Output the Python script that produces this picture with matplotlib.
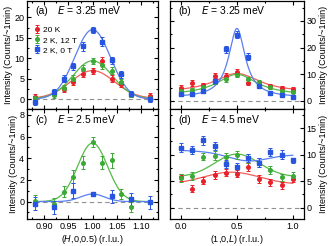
import numpy as np
import matplotlib
matplotlib.use('Agg')
import matplotlib.pyplot as plt
from matplotlib.ticker import MultipleLocator

## data ##
H = [0.88, 0.92, 0.94, 0.96, 0.98, 1.00, 1.02, 1.04, 1.06, 1.08, 1.12]
L = [0.0, 0.1, 0.2, 0.3, 0.4, 0.5, 0.6, 0.7, 0.8, 0.9, 1.0]

# panel (a), E = 3.25 meV, H scan
a_red = [0.6, 1.3, 2.4, 4.2, 6.2, 6.9, 9.4, 5.0, 3.8, 1.2, 0.9]
a_red_err = [0.6, 0.6, 0.7, 0.8, 0.8, 0.8, 0.9, 0.8, 0.7, 0.6, 0.6]
a_green = [0.2, 1.0, 2.7, 5.0, 7.4, 9.3, 8.4, 7.0, 4.2, 1.1, 0.4]
a_green_err = [0.6, 0.6, 0.7, 0.8, 0.9, 0.7, 0.9, 0.9, 0.8, 0.6, 0.6]
a_blue = [-0.6, 1.7, 5.0, 8.0, 12.9, 17.0, 14.1, 9.5, 6.1, 1.4, 0.0]
a_blue_err = [0.7, 0.7, 0.9, 0.9, 1.0, 0.7, 1.0, 0.9, 0.9, 0.7, 0.7]

# panel (b), E = 3.25 meV, L scan
b_red = [5.0, 6.6, 6.0, 9.4, 9.4, 10.7, 6.9, 6.6, 5.6, 4.7, 4.5]
b_red_err = [0.9, 1.1, 0.9, 1.2, 1.1, 1.1, 1.1, 0.9, 0.9, 0.8, 0.8]
b_green = [3.7, 4.1, 5.4, 7.2, 8.1, 9.8, 8.1, 6.9, 5.1, 3.9, 3.5]
b_green_err = [0.7, 0.7, 0.8, 0.9, 0.9, 1.0, 0.9, 0.9, 0.8, 0.7, 0.7]
b_blue = [2.5, 2.5, 3.9, 7.5, 19.3, 24.9, 16.6, 5.6, 3.1, 2.1, 1.6]
b_blue_err = [0.8, 0.8, 0.9, 1.1, 1.3, 1.4, 1.2, 0.9, 0.8, 0.8, 0.8]

# panel (c), E = 2.5 meV, H scan
c_H_green = [0.88, 0.92, 0.94, 0.96, 0.98, 1.00, 1.02, 1.04, 1.06, 1.08]
c_green = [0.1, -0.2, 0.9, 2.3, 3.6, 5.5, 3.6, 3.8, 0.7, -0.5]
c_green_err = [0.5, 0.5, 0.5, 0.6, 0.6, 0.5, 0.6, 0.7, 0.5, 0.5]
c_H_blue = [0.88, 0.92, 0.96, 1.00, 1.04, 1.08, 1.12]
c_blue = [-0.2, -0.5, 1.0, 0.7, 0.5, 0.2, -0.05]
c_blue_err = [0.6, 0.6, 0.7, 0.2, 0.6, 0.6, 0.6]

# panel (d), E = 4.5 meV, L scan
d_red = [5.7, 3.6, 5.1, 6.2, 6.6, 6.4, 7.7, 5.4, 4.8, 4.2, 5.4]
d_red_err = [0.7, 0.7, 0.7, 0.7, 0.7, 0.7, 0.7, 0.7, 0.7, 0.7, 0.5]
d_green = [5.6, 6.0, 9.6, 9.8, 9.6, 9.9, 9.3, 8.5, 7.1, 5.7, 6.0]
d_green_err = [0.7, 0.7, 0.7, 0.8, 0.8, 0.8, 0.8, 0.8, 0.7, 0.7, 0.7]
d_blue = [11.3, 10.9, 12.7, 11.6, 8.2, 7.6, 9.4, 8.5, 10.5, 10.0, 8.9]
d_blue_err = [0.8, 0.8, 0.8, 0.8, 0.8, 0.8, 0.8, 0.8, 0.8, 0.8, 0.5]

## fit curves: (baseline, amplitude, centre, width) ##
a_fits = {'red': (0.2, 6.8, 1.0, 0.045), 'green': (0.1, 9.3, 1.0, 0.041),
          'blue': (0.0, 17.0, 1.0, 0.037)}
b_fits = {'red': (3.0, 7.3, 0.5, 0.25), 'green': (2.0, 8.0, 0.5, 0.22),
          'blue': (1.2, 26.0, 0.5, 0.09)}
c_fits = {'green': (0.0, 5.4, 1.0, 0.031), 'blue': (0.0, 0.7, 1.0, 0.025)}
d_fits = {'red': (4.4, 2.3, 0.45, 0.25), 'green': (5.8, 4.3, 0.5, 0.2)}
d_blue_fit = (10.8, 10.0, 1.5, 0.6, 0.18)  # sloped baseline with a dip

labels = ['20 K', '2 K, 12 T', '2 K, 0 T']
colors = {'red': '#e8202a', 'green': '#3aa935', 'blue': '#2855e0'}
fitcolors = {'red': '#f0605a', 'green': '#55bb45', 'blue': '#5a7ff0'}
markers = {'red': 'o', 'green': 'o', 'blue': 's'}

plt.rcParams['font.family'] = 'Liberation Sans'
plt.rcParams['font.size'] = 6.5


def gauss(x, p):
    b, A, x0, s = p
    return b + A * np.exp(-(x - x0) ** 2 / (2 * s ** 2))


def lorentz(x, p):
    b, A, x0, g = p
    return b + A / (1 + ((x - x0) / g) ** 2)


def style_axis(ax, right=False):
    ax.tick_params(which='both', direction='in', top=True, right=True,
                   left=True, bottom=True, labelsize=6.5, width=0.8, pad=2)
    ax.tick_params(which='major', length=3)
    ax.tick_params(which='minor', length=1.6)
    if right:
        ax.tick_params(labelleft=False, labelright=True)
        ax.yaxis.set_label_position('right')
    for s in ax.spines.values():
        s.set_linewidth(0.9)
    ax.axhline(0, color='#909090', lw=0.8, ls=(0, (4, 3)), zorder=0)


def points(ax, x, y, err, c, label=None):
    ax.errorbar(x, y, yerr=err, fmt=markers[c], color=colors[c], ms=2.6,
                elinewidth=0.7, capsize=1.2, capthick=0.7, label=label,
                zorder=3)


fig = plt.figure(figsize=(3.3, 2.46), dpi=100)
ax_a = fig.add_axes([0.082, 0.555, 0.397, 0.441])
ax_b = fig.add_axes([0.515, 0.555, 0.406, 0.441])
ax_c = fig.add_axes([0.082, 0.110, 0.397, 0.445])
ax_d = fig.add_axes([0.515, 0.110, 0.406, 0.445])

xh = np.linspace(0.88, 1.12, 200)
xl = np.linspace(0.0, 1.0, 200)

# (a)
for c, y, e, lab in [('red', a_red, a_red_err, labels[0]),
                     ('green', a_green, a_green_err, labels[1]),
                     ('blue', a_blue, a_blue_err, labels[2])]:
    ax_a.plot(xh, gauss(xh, a_fits[c]), color=fitcolors[c], lw=0.9, zorder=2)
    points(ax_a, H, y, e, c, lab)

# (b)
for c, y, e in [('red', b_red, b_red_err), ('green', b_green, b_green_err),
                ('blue', b_blue, b_blue_err)]:
    ax_b.plot(xl, lorentz(xl, b_fits[c]), color=fitcolors[c], lw=0.9, zorder=2)
    points(ax_b, L, y, e, c)

# (c)
for c, x, y, e in [('green', c_H_green, c_green, c_green_err),
                   ('blue', c_H_blue, c_blue, c_blue_err)]:
    ax_c.plot(xh, gauss(xh, c_fits[c]), color=fitcolors[c], lw=0.9, zorder=2)
    points(ax_c, x, y, e, c)

# (d)
for c, y, e in [('red', d_red, d_red_err), ('green', d_green, d_green_err)]:
    ax_d.plot(xl, gauss(xl, d_fits[c]), color=fitcolors[c], lw=0.9, zorder=2)
    points(ax_d, L, y, e, c)
b0, b1, dip, x0, s = d_blue_fit
ax_d.plot(xl, b0 + (b1 - b0) * xl - dip * np.exp(-(xl - x0) ** 2 / (2 * s ** 2)),
          color=fitcolors['blue'], lw=0.9, zorder=2)
points(ax_d, L, d_blue, d_blue_err, 'blue')

## axes ranges and ticks ##
for ax in (ax_a, ax_c):
    ax.set_xlim(0.864, 1.136)
    ax.xaxis.set_major_locator(MultipleLocator(0.05))
    ax.xaxis.set_minor_locator(MultipleLocator(0.025))
    style_axis(ax)
    ax.set_ylabel('Intensity (Counts/~1min)', fontsize=6.5, labelpad=1)
for ax in (ax_b, ax_d):
    ax.set_xlim(-0.1, 1.1)
    ax.xaxis.set_major_locator(MultipleLocator(0.5))
    ax.xaxis.set_minor_locator(MultipleLocator(0.25))
    style_axis(ax, right=True)
    ax.set_ylabel('Intensity (Counts/~1min)', fontsize=6.5, labelpad=2)

ax_a.set_ylim(-2.5, 24)
ax_a.yaxis.set_major_locator(MultipleLocator(5))
ax_a.yaxis.set_minor_locator(MultipleLocator(2.5))
ax_b.set_ylim(-3.2, 37.5)
ax_b.yaxis.set_major_locator(MultipleLocator(10))
ax_b.yaxis.set_minor_locator(MultipleLocator(5))
ax_c.set_ylim(-1.6, 8.5)
ax_c.yaxis.set_major_locator(MultipleLocator(2))
ax_c.yaxis.set_minor_locator(MultipleLocator(1))
ax_d.set_ylim(-2.1, 18.5)
ax_d.yaxis.set_major_locator(MultipleLocator(5))
ax_d.yaxis.set_minor_locator(MultipleLocator(2.5))

ax_a.tick_params(labelbottom=False)
ax_b.tick_params(labelbottom=False)
ax_a.xaxis.set_major_formatter(plt.FormatStrFormatter('%.2f'))
ax_c.xaxis.set_major_formatter(plt.FormatStrFormatter('%.2f'))
ax_d.xaxis.set_major_formatter(plt.FormatStrFormatter('%.1f'))

ax_c.set_xlabel('($H$,0,0.5) (r.l.u.)', fontsize=6.5, labelpad=2)
ax_d.set_xlabel('(1,0,$L$) (r.l.u.)', fontsize=6.5, labelpad=2)

## panel titles ##
for ax, tag, en in [(ax_a, '(a)', '3.25'), (ax_b, '(b)', '3.25'),
                    (ax_c, '(c)', '2.5'), (ax_d, '(d)', '4.5')]:
    ax.text(0.06, 0.88, tag, transform=ax.transAxes, fontsize=7.5)
    ax.text(0.23, 0.88, '$E$ = %s meV' % en, transform=ax.transAxes,
            fontsize=7.5)

ax_a.legend(loc='upper left', bbox_to_anchor=(0.0, 0.83), frameon=False,
            fontsize=6, handlelength=0.8, handletextpad=0.3, labelspacing=0.25,
            borderpad=0.3)

fig.savefig('out.png', dpi=100)
